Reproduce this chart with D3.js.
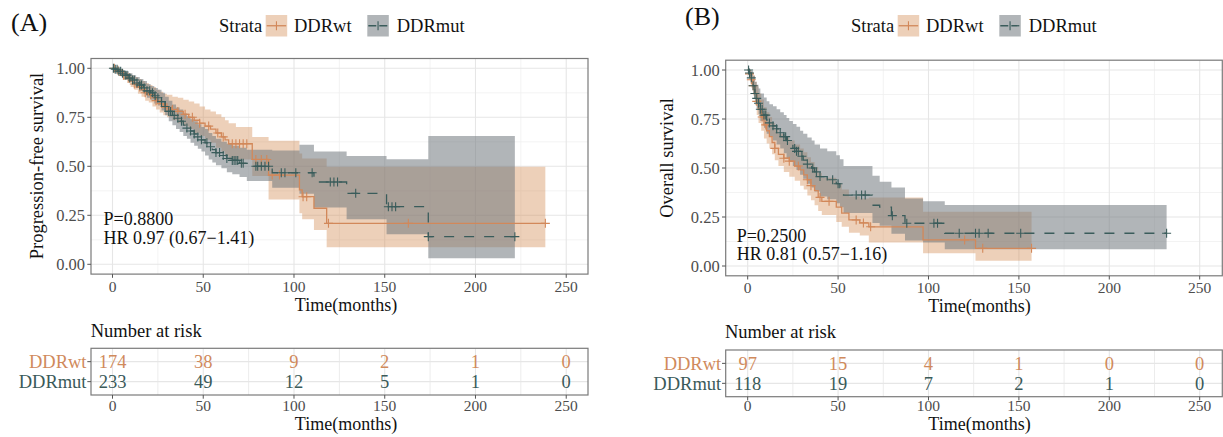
<!DOCTYPE html>
<html><head><meta charset="utf-8">
<script src="https://cdn.jsdelivr.net/npm/d3@7"></script>
<style>body{margin:0;background:#fff}svg{display:block}text{font-family:"Liberation Serif","Times New Roman",Times,serif}</style>
</head><body><svg id="c" width="1223" height="437"></svg>
<script>
// ---------- data ----------
const groups = ["DDRwt", "DDRmut"];
const timeTicks = [0, 50, 100, 150, 200, 250];
const timeMinor = [25, 75, 125, 175, 225];
const survTicks = [0, 0.25, 0.5, 0.75, 1];
const survTickLabels = ["0.00", "0.25", "0.50", "0.75", "1.00"];
const survMinor = [0.125, 0.375, 0.625, 0.875];
const riskTimes = [0, 50, 100, 150, 200, 250];

// Panel A: progression-free survival  [time, S]
const pfsWtCurve = [[0,1],[2,.99],[4,.98],[6,.965],[8,.95],[10,.935],[12,.92],[14,.905],[16,.89],[18,.875],[20,.865],[22,.85],[24,.835],[26,.82],[28,.81],[30,.80],[33,.79],[36,.78],[39,.765],[42,.75],[45,.735],[48,.72],[51,.705],[54,.69],[57,.67],[60,.65],[62,.635],[64,.615],[77,.535],[86,.455],[103,.38],[104.5,.345],[111,.286],[118,.209],[238.5,.209]];
const pfsWtBand = [[0,1,1],[2,.975,1],[4,.96,.995],[6,.94,.985],[8,.925,.975],[10,.905,.965],[12,.89,.955],[14,.87,.945],[16,.855,.935],[18,.835,.925],[20,.825,.915],[22,.805,.905],[24,.79,.89],[26,.775,.88],[28,.76,.87],[30,.75,.865],[33,.735,.855],[36,.72,.85],[39,.705,.84],[42,.69,.83],[45,.67,.82],[48,.655,.805],[51,.635,.79],[54,.62,.78],[57,.595,.765],[60,.575,.75],[62,.555,.735],[64,.535,.72],[68,.535,.70],[77,.45,.65],[86,.33,.63],[103,.26,.565],[104.5,.23,.54],[111,.175,.54],[118,.087,.498],[238.5,.087,.498]];
const pfsMutCurve = [[0,1],[1.5,.995],[3,.985],[5,.975],[7,.965],[9,.95],[11,.94],[13,.925],[15,.915],[17,.90],[19,.885],[21,.875],[23,.86],[25,.85],[27,.83],[29,.805],[31,.78],[33,.76],[35,.745],[37,.73],[39,.71],[41,.695],[43,.68],[45,.665],[47,.65],[49,.635],[51,.62],[53,.60],[55,.585],[57,.57],[60,.555],[63,.54],[66,.53],[70,.515],[74,.50],[88,.467],[111,.42],[129,.362],[151,.294],[174,.141],[221.7,.141]];
const pfsMutBand = [[0,1,1],[1.5,.985,1],[3,.97,.995],[5,.958,.99],[7,.945,.985],[9,.93,.975],[11,.915,.965],[13,.90,.955],[15,.885,.945],[17,.87,.935],[19,.85,.92],[21,.84,.91],[23,.82,.90],[25,.81,.89],[27,.785,.875],[29,.76,.855],[31,.73,.835],[33,.71,.815],[35,.69,.80],[37,.675,.79],[39,.655,.77],[41,.64,.755],[43,.62,.74],[45,.605,.73],[47,.59,.715],[49,.575,.70],[51,.555,.69],[53,.535,.67],[55,.52,.655],[57,.505,.64],[60,.49,.625],[63,.47,.615],[66,.46,.605],[70,.445,.595],[74,.425,.585],[88,.39,.58],[103,.36,.61],[111,.29,.575],[129,.23,.553],[151,.153,.536],[174,.031,.655],[221.7,.031,.655]];
const pfsWtCensor = [1,3,6,9,12,15,18,21,24,27,30,33,36,40,44,48,53,58,61,66,68,70,72,74,79,82,85,88,92,105,107,119,163,238.5];
const pfsMutCensor = [0.5,1.5,2.5,3.5,4.5,5.5,7,8,9.5,11,12,13.5,15,16,17.5,19,20.5,22,23.5,25,27,29,31,32,34,36,38,41,43,45,47,49,52,54,57,59,61,63,66,67,68,69,71,72,79,80,82,84,86,93,95,101,110,120,122,124,134,152,154,156,174,221.7];
const pfsRiskWt = [174, 38, 9, 2, 1, 0];
const pfsRiskMut = [233, 49, 12, 5, 1, 0];
const pfsStats = ["P=0.8800", "HR 0.97 (0.67\u22121.41)"];

// Panel B: overall survival
const osWtCurve = [[0,1],[1,.98],[2,.95],[3,.92],[4,.88],[5,.84],[6,.80],[7.5,.76],[9,.72],[10.5,.69],[12,.66],[13.5,.63],[15,.60],[17,.57],[20,.55],[23,.535],[26,.51],[29,.49],[31,.465],[33,.44],[35,.41],[37,.385],[39,.35],[41,.33],[49,.30],[52,.27],[56,.235],[62,.22],[67,.20],[97,.133],[126,.09],[157,.09]];
const osWtBand = [[0,1,1],[1,.95,1],[2,.91,.99],[3,.87,.975],[4,.82,.94],[5,.77,.915],[6,.73,.88],[7.5,.69,.85],[9,.65,.81],[10.5,.625,.785],[12,.60,.76],[13.5,.57,.73],[15,.54,.70],[17,.51,.675],[20,.48,.655],[23,.455,.64],[26,.435,.62],[29,.41,.60],[31,.39,.58],[33,.36,.555],[35,.335,.53],[37,.31,.505],[39,.28,.475],[41,.26,.45],[49,.225,.42],[52,.20,.39],[56,.17,.355],[62,.155,.345],[67,.12,.35],[97,.065,.277],[126,.027,.277],[157,.027,.277]];
const osMutCurve = [[0,1],[1,.985],[2,.96],[3,.92],[4,.88],[5,.855],[6,.83],[7,.80],[9,.77],[10.5,.745],[12,.73],[14,.715],[16,.70],[18,.68],[20,.66],[21.5,.64],[23,.62],[25,.60],[27,.585],[29,.56],[30.7,.54],[33,.52],[35.4,.50],[37,.48],[40,.456],[44,.44],[49,.42],[51,.40],[53,.362],[69,.31],[73,.30],[79.5,.257],[87,.218],[109,.167],[231.7,.167]];
const osMutBand = [[0,1,1],[1,.96,1],[2,.93,.995],[3,.88,.97],[4,.835,.94],[5,.805,.925],[6,.775,.905],[7,.74,.88],[9,.705,.86],[10.5,.675,.84],[12,.66,.825],[14,.64,.815],[16,.62,.80],[18,.60,.785],[20,.575,.77],[21.5,.55,.755],[23,.53,.74],[25,.51,.725],[27,.49,.71],[29,.465,.69],[30.7,.445,.675],[33,.42,.655],[35.4,.40,.64],[37,.38,.62],[40,.355,.60],[44,.34,.585],[49,.32,.565],[51,.30,.545],[53,.27,.51],[69,.22,.46],[73,.205,.43],[79.5,.165,.40],[87,.13,.345],[97,.12,.33],[109,.085,.311],[231.7,.085,.311]];
const osWtCensor = [1,2,3,5,8,10,15,20,23,28,33,35,40,45,60,64,68,120,130,157];
const osMutCensor = [0.5,1,2,3,4,5,6,7,8,9,10,12,14,16,18,20,21,22,26,27,28,30,33,36,38,40,47,50,60,63,65,80,88,103,105,117,126,128,133,151,231.7];
const osRiskWt = [97, 15, 4, 1, 0, 0];
const osRiskMut = [118, 19, 7, 2, 1, 0];
const osStats = ["P=0.2500", "HR 0.81 (0.57\u22121.16)"];

// ---------- styles ----------
const lineColor = {DDRwt: "#D2885A", DDRmut: "#3A5C5B"};
const textColor = {DDRwt: "#D08A5C", DDRmut: "#3A5A59"};
const bandFill = {DDRwt: "#D28A50", DDRmut: "#71797E"};
const bandOpacity = {DDRwt: 0.4, DDRmut: 0.55};
const dash = {DDRwt: null, DDRmut: "10,10"};

const panels = [
  {label: "(A)", labelX: 11, labelY: 31, legendX: 219,
   ylab: "Progression-free survival", ylabX: 43, ylabY: 166,
   xr: [91, 588], xd: [-11.85, 262], yr: [274.1, 58.5],
   curves: [pfsWtCurve, pfsMutCurve], bands: [pfsWtBand, pfsMutBand], censors: [pfsWtCensor, pfsMutCensor],
   risk: [pfsRiskWt, pfsRiskMut], stats: pfsStats, statX: 103.5, statY: [225, 244],
   xlabX: 346, xlabY: 311, tickY: 291.5, riskTitleX: 90.7, riskTitleY: 336.7,
   tTop: 348.3, tBot: 395, tTickY: 410.5, tXlabY: 429.5},
  {label: "(B)", labelX: 685, labelY: 25, legendX: 851,
   ylab: "Overall survival", ylabX: 672.5, ylabY: 158,
   xr: [725.7, 1222.3], xd: [-12.16, 262.5], yr: [275.8, 60.2],
   curves: [osWtCurve, osMutCurve], bands: [osWtBand, osMutBand], censors: [osWtCensor, osMutCensor],
   risk: [osRiskWt, osRiskMut], stats: osStats, statX: 736.7, statY: [241.7, 260],
   xlabX: 979.5, xlabY: 312, tickY: 293, riskTitleX: 725, riskTitleY: 338.3,
   tTop: 350, tBot: 396.7, tTickY: 411, tXlabY: 430}
];

const svg = d3.select("#c");
svg.append("rect").attr("width", 1223).attr("height", 437).attr("fill", "#fff");

function survAt(curve, t) {
  let s = curve[0][1];
  for (const [ti, si] of curve) if (ti <= t) s = si;
  return s;
}
const plus = "M-4.5,0H4.5M0,-4.5V4.5";

panels.forEach(p => {
  const g = svg.append("g");
  const x = d3.scaleLinear().domain(p.xd).range(p.xr);
  const y = d3.scaleLinear().domain([-0.05, 1.05]).range(p.yr);
  const [L, R] = p.xr, [B, T] = p.yr;

  // grid
  const grid = g.append("g");
  survMinor.forEach(v => grid.append("line").attr("x1", L).attr("x2", R).attr("y1", y(v)).attr("y2", y(v)).attr("stroke", "#F0F0F0").attr("stroke-width", 0.8));
  timeMinor.forEach(v => grid.append("line").attr("y1", T).attr("y2", B).attr("x1", x(v)).attr("x2", x(v)).attr("stroke", "#F0F0F0").attr("stroke-width", 0.8));
  survTicks.forEach(v => grid.append("line").attr("x1", L).attr("x2", R).attr("y1", y(v)).attr("y2", y(v)).attr("stroke", "#E6E6E6").attr("stroke-width", 1.1));
  timeTicks.forEach(v => grid.append("line").attr("y1", T).attr("y2", B).attr("x1", x(v)).attr("x2", x(v)).attr("stroke", "#E6E6E6").attr("stroke-width", 1.1));

  // bands
  const area = d3.area().x(d => x(d[0])).y0(d => y(d[1])).y1(d => y(d[2])).curve(d3.curveStepAfter);
  groups.forEach((gr, i) => {
    g.append("path").datum(p.bands[i]).attr("d", area)
      .attr("fill", bandFill[gr]).attr("fill-opacity", bandOpacity[gr]);
  });
  // curves + censor marks
  const line = d3.line().x(d => x(d[0])).y(d => y(d[1])).curve(d3.curveStepAfter);
  groups.forEach((gr, i) => {
    g.append("path").datum(p.curves[i]).attr("d", line).attr("fill", "none")
      .attr("stroke", lineColor[gr]).attr("stroke-width", 1.3)
      .attr("stroke-dasharray", dash[gr]);
    g.append("g").selectAll("path").data(p.censors[i]).join("path")
      .attr("transform", t => `translate(${x(t)},${y(survAt(p.curves[i], t))})`)
      .attr("d", plus).attr("stroke", lineColor[gr]).attr("stroke-width", 1.1).attr("fill", "none");
  });

  // border
  g.append("rect").attr("x", L).attr("y", T).attr("width", R - L).attr("height", B - T)
    .attr("fill", "none").attr("stroke", "#7A7A7A").attr("stroke-width", 1.2);

  // axes ticks + labels
  timeTicks.forEach(v => {
    g.append("line").attr("x1", x(v)).attr("x2", x(v)).attr("y1", B).attr("y2", B + 3.7).attr("stroke", "#555").attr("stroke-width", 1);
    g.append("text").attr("x", x(v)).attr("y", p.tickY).attr("text-anchor", "middle")
      .attr("font-size", 15.5).attr("fill", "#4D4D4D").text(v);
  });
  survTicks.forEach((v, i) => {
    g.append("line").attr("x1", L - 3.7).attr("x2", L).attr("y1", y(v)).attr("y2", y(v)).attr("stroke", "#555").attr("stroke-width", 1);
    g.append("text").attr("x", L - 6).attr("y", y(v) + 5.5).attr("text-anchor", "end")
      .attr("font-size", 16.5).attr("fill", "#4D4D4D").text(survTickLabels[i]);
  });
  g.append("text").attr("x", p.xlabX).attr("y", p.xlabY).attr("text-anchor", "middle").attr("font-size", 18).attr("fill", "#111").text("Time(months)");
  g.append("text").attr("transform", `translate(${p.ylabX},${p.ylabY}) rotate(-90)`).attr("text-anchor", "middle")
    .attr("font-size", 18.5).attr("fill", "#111").text(p.ylab);

  // stats text
  p.stats.forEach((s, i) => g.append("text").attr("x", p.statX).attr("y", p.statY[i]).attr("font-size", 18).attr("fill", "#111").text(s));

  // panel label
  g.append("text").attr("x", p.labelX).attr("y", p.labelY).attr("font-size", 26).attr("fill", "#111").text(p.label);

  // legend
  const lx = p.legendX;
  g.append("text").attr("x", lx).attr("y", 31.7).attr("font-size", 18.5).attr("fill", "#111").text("Strata");
  const keyX = [lx + 46.7, lx + 148.3], labX = [lx + 75, lx + 177.7];
  groups.forEach((gr, i) => {
    g.append("rect").attr("x", keyX[i]).attr("y", 15).attr("width", 21.5).attr("height", 21.5)
      .attr("fill", bandFill[gr]).attr("fill-opacity", bandOpacity[gr]);
    g.append("line").attr("x1", keyX[i] + 1).attr("x2", keyX[i] + 20.5).attr("y1", 25.75).attr("y2", 25.75)
      .attr("stroke", lineColor[gr]).attr("stroke-width", 1.3).attr("stroke-dasharray", gr === "DDRmut" ? "8,3" : null);
    g.append("line").attr("x1", keyX[i] + 10.75).attr("x2", keyX[i] + 10.75).attr("y1", 21.25).attr("y2", 30.25)
      .attr("stroke", lineColor[gr]).attr("stroke-width", 1.1);
    g.append("text").attr("x", labX[i]).attr("y", 31.7).attr("font-size", 18.5).attr("fill", "#111").text(gr);
  });

  // risk table
  const tx = d3.scaleLinear().domain(p.xd).range(p.xr);
  const ty = d3.scalePoint().domain(groups).range([p.tTop, p.tBot]).padding(0.67);
  const tg = svg.append("g");
  timeMinor.forEach(v => tg.append("line").attr("x1", tx(v)).attr("x2", tx(v)).attr("y1", p.tTop).attr("y2", p.tBot).attr("stroke", "#ECECEC").attr("stroke-width", 1));
  timeTicks.forEach(v => tg.append("line").attr("x1", tx(v)).attr("x2", tx(v)).attr("y1", p.tTop).attr("y2", p.tBot).attr("stroke", "#E6E6E6").attr("stroke-width", 1.1));
  groups.forEach(gr => tg.append("line").attr("x1", L).attr("x2", R).attr("y1", ty(gr)).attr("y2", ty(gr)).attr("stroke", "#E6E6E6").attr("stroke-width", 1.1));
  tg.append("rect").attr("x", L).attr("y", p.tTop).attr("width", R - L).attr("height", p.tBot - p.tTop)
    .attr("fill", "none").attr("stroke", "#7A7A7A").attr("stroke-width", 1.2);
  groups.forEach((gr, i) => {
    riskTimes.forEach((t, j) => {
      tg.append("text").attr("x", tx(t)).attr("y", ty(gr) + 6.5).attr("text-anchor", "middle")
        .attr("font-size", 18.5).attr("fill", textColor[gr]).text(p.risk[i][j]);
    });
    tg.append("line").attr("x1", L - 3.7).attr("x2", L).attr("y1", ty(gr)).attr("y2", ty(gr)).attr("stroke", "#555");
    tg.append("text").attr("x", L - 4.5).attr("y", ty(gr) + 6.5).attr("text-anchor", "end")
      .attr("font-size", 18.5).attr("fill", textColor[gr]).text(gr);
  });
  timeTicks.forEach(v => {
    tg.append("line").attr("x1", tx(v)).attr("x2", tx(v)).attr("y1", p.tBot).attr("y2", p.tBot + 3.7).attr("stroke", "#555");
    tg.append("text").attr("x", tx(v)).attr("y", p.tTickY).attr("text-anchor", "middle")
      .attr("font-size", 15.5).attr("fill", "#4D4D4D").text(v);
  });
  tg.append("text").attr("x", p.riskTitleX).attr("y", p.riskTitleY).attr("font-size", 18.5).attr("fill", "#111").text("Number at risk");
  tg.append("text").attr("x", p.xlabX).attr("y", p.tXlabY).attr("text-anchor", "middle").attr("font-size", 18).attr("fill", "#111").text("Time(months)");
});
</script>
</body></html>
